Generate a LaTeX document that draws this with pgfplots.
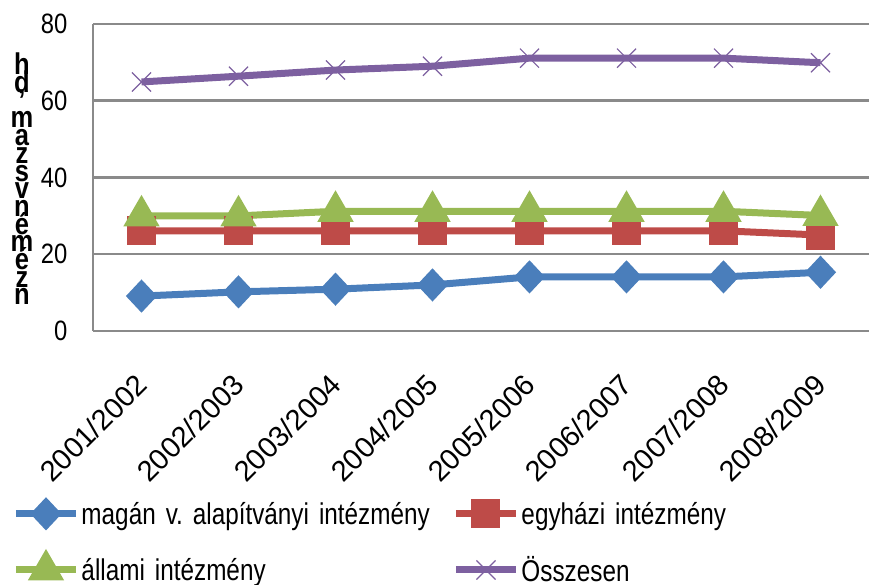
\documentclass[border=0pt]{standalone}
\usepackage{fontspec}
\setmainfont{Liberation Sans}
\newfontfamily\condfont{Liberation Sans}[FakeStretch=0.81]
\newfontfamily\ytfont{Liberation Sans}[FakeStretch=0.85]
\usepackage{pgfplots}
\pgfplotsset{compat=1.18}
\definecolor{cblue}{HTML}{4A7EBB}
\definecolor{cred}{HTML}{BE4B48}
\definecolor{cgreen}{HTML}{98B954}
\definecolor{cpurple}{HTML}{7D60A0}
\definecolor{cgrid}{HTML}{8A8A8A}
\newcommand\yl[1]{\hbox to 24pt{\hss#1\hss}}
\newcommand\ylabelstack{\vbox{\fontsize{30}{17.7}\selectfont\ytfont\bfseries\baselineskip=17.7pt\lineskiplimit=-100pt\lineskip=0pt
\yl{h}\yl{d}\yl{’}\yl{m}\yl{a}\yl{z}\yl{s}\yl{v}\yl{n}\yl{é}\yl{m}\yl{é}\yl{z}\yl{n}}}
\begin{document}
\frenchspacing
\begin{tikzpicture}
\useasboundingbox (0,0) rectangle (869pt,585pt);
\begin{axis}[
  at={(93pt,254pt)}, anchor=south west,
  scale only axis, width=776pt, height=307pt,
  xmin=-0.5, xmax=7.5, ymin=0, ymax=80,
  ytick={0,20,40,60,80},
  xtick={0,...,7},
  xticklabels={2001/2002,2002/2003,2003/2004,2004/2005,2005/2006,2006/2007,2007/2008,2008/2009},
  /pgf/number format/assume math mode=true,
  axis x line*=bottom, axis y line*=left,
  axis line style={cgrid, line width=2.5pt, -},
  ymajorgrids, grid style={cgrid, line width=2.5pt},
  major tick length=0pt,
  tick style={draw=none},
  yticklabel style={font=\fontsize{28}{30}\selectfont\ytfont, xshift=-22pt},
  xticklabel style={font=\fontsize{29}{31}\selectfont, rotate=45, anchor=east, xshift=-30.4pt, yshift=-34.6pt},
  ylabel={\ylabelstack},
  ylabel style={at={(axis description cs:-0.0915,0.495)}, rotate=-90, anchor=center},
  legend columns=2,
  legend cell align=left,
  legend style={draw=none, fill=none, inner sep=0pt, at={(axis description cs:-0.104,-0.55)}, anchor=north west,
    nodes={font=\fontsize{30}{32}\selectfont\condfont, inner sep=2pt, text width=369pt, align=left},
    row sep=27pt},
  legend image code/.code={\draw[mark repeat=2,mark phase=2,#1] plot coordinates {(0pt,0pt) (30pt,0pt) (60pt,0pt)};},
  every axis plot/.append style={line width=7pt},
]
\addplot[cblue, mark=diamond*, mark size=11.5pt, mark options={xscale=1.25, solid}] coordinates {
(0,9.1) (1,10.2) (2,10.9) (3,12.0) (4,14.1) (5,14.1) (6,14.1) (7,15.3)};
\addlegendentry{magán v. alapítványi intézmény}
\addplot[cred, mark=square*, mark size=11pt] coordinates {
(0,26.1) (1,26.1) (2,26.1) (3,26.1) (4,26.1) (5,26.1) (6,26.1) (7,25.0)};
\addlegendentry{egyházi intézmény}
\addplot[cgreen, mark=triangle*, mark size=14pt] coordinates {
(0,30.0) (1,30.0) (2,31.2) (3,31.2) (4,31.2) (5,31.2) (6,31.2) (7,30.1)};
\addlegendentry{állami intézmény}
\addplot[cpurple, mark=x, mark size=13.5pt, mark options={line width=1.2pt}] coordinates {
(0,64.9) (1,66.4) (2,68.0) (3,69.0) (4,71.1) (5,71.1) (6,71.1) (7,69.9)};
\addlegendentry{Összesen}
\end{axis}
\end{tikzpicture}
\end{document}
